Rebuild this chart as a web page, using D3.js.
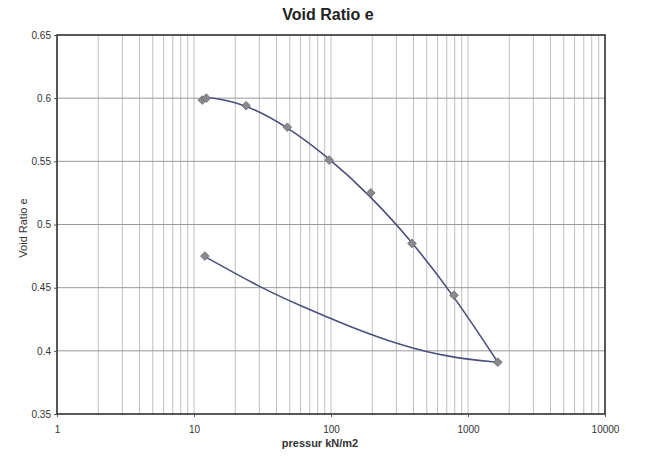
<!DOCTYPE html>
<html>
<head>
    <script src="https://d3js.org/d3.v7.min.js"></script>
    <style>
        body { margin: 0; background: #fff; }
        svg { font-family: "Liberation Sans", Arial, sans-serif; }
    </style>
</head>
<body>
    <svg id="chart" width="657" height="459"></svg>
    <script>
        // loading branch (markers), pressure kN/m2 vs void ratio
        const loadP = [11.5, 12.3, 24, 48, 97, 195, 390, 790, 1650];
        const loadE = [0.5985, 0.600, 0.594, 0.577, 0.551, 0.525, 0.485, 0.444, 0.391];
        // loading trend line
        const loadLineP = [11.2, 14, 24, 48, 97, 195, 390, 790, 1650];
        const loadLineE = [0.6005, 0.6005, 0.595, 0.5775, 0.5525, 0.5225, 0.4865, 0.4435, 0.391];
        // unloading branch markers
        const unloadP = [12];
        const unloadE = [0.475];
        // unloading trend line
        const unloadLineP = [12, 30, 60, 138, 318, 750, 1650];
        const unloadLineE = [0.4746, 0.4505, 0.4355, 0.419, 0.4045, 0.3945, 0.391];
        const xTicks = [1, 10, 100, 1000, 10000];
        const yTicks = [0.35, 0.4, 0.45, 0.5, 0.55, 0.6, 0.65];

        const svg = d3.select("#chart");
        const plot = { left: 57, right: 605, top: 35, bottom: 414 };

        const x = d3.scaleLog().domain([1, 10000]).range([plot.left, plot.right]);
        const y = d3.scaleLinear().domain([0.35, 0.65]).range([plot.bottom, plot.top]);

        // vertical grid at every log tick
        const minor = x.ticks().filter(d => d > 1 && d < 10000);
        svg.append("g").selectAll("line")
            .data(minor)
            .join("line")
            .attr("x1", d => x(d)).attr("x2", d => x(d))
            .attr("y1", plot.top).attr("y2", plot.bottom)
            .attr("stroke", "#b0b0b0")
            .attr("stroke-width", 0.8);

        // horizontal grid
        svg.append("g").selectAll("line")
            .data(yTicks.slice(1, -1))
            .join("line")
            .attr("x1", plot.left).attr("x2", plot.right)
            .attr("y1", d => y(d)).attr("y2", d => y(d))
            .attr("stroke", "#999")
            .attr("stroke-width", 1);

        // frame
        svg.append("rect")
            .attr("x", plot.left).attr("y", plot.top)
            .attr("width", plot.right - plot.left).attr("height", plot.bottom - plot.top)
            .attr("fill", "none")
            .attr("stroke", "#222")
            .attr("stroke-width", 1.5);

        // axes
        const yAxis = svg.append("g")
            .attr("transform", `translate(${plot.left},0)`)
            .call(d3.axisLeft(y).tickValues(yTicks).tickSize(3).tickFormat(d => String(+d.toFixed(2))));
        const xAxis = svg.append("g")
            .attr("transform", `translate(0,${plot.bottom})`)
            .call(d3.axisBottom(x).tickValues(xTicks).tickSize(3).tickFormat(d3.format("d")));
        [xAxis, yAxis].forEach(a => {
            a.select(".domain").remove();
            a.selectAll(".tick line").attr("stroke", "#555");
            a.selectAll(".tick text")
                .attr("fill", "#333")
                .style("font-size", "10px")
                .style("font-family", "'Liberation Sans', Arial, sans-serif");
        });
        xAxis.selectAll(".tick text").attr("dy", "1.3em");

        // smooth trend lines
        const line = d3.line()
            .x(d => x(d[0]))
            .y(d => y(d[1]))
            .curve(d3.curveBasis);

        svg.append("path")
            .datum(d3.zip(loadLineP, loadLineE))
            .attr("d", line)
            .attr("fill", "none")
            .attr("stroke", "#4b4f7c")
            .attr("stroke-width", 1.6);

        svg.append("path")
            .datum(d3.zip(unloadLineP, unloadLineE))
            .attr("d", line)
            .attr("fill", "none")
            .attr("stroke", "#4b4f7c")
            .attr("stroke-width", 1.6);

        // diamond markers
        const diamond = d3.symbol().type(d3.symbolDiamond2).size(48);
        svg.append("g").selectAll("path")
            .data(d3.zip(loadP, loadE).concat(d3.zip(unloadP, unloadE)))
            .join("path")
            .attr("d", diamond)
            .attr("transform", d => `translate(${x(d[0])},${y(d[1])})`)
            .attr("fill", "#8a8a8e")
            .attr("stroke", "#6a6a70")
            .attr("stroke-width", 0.8);

        // titles
        svg.append("text")
            .attr("x", 328).attr("y", 20)
            .attr("text-anchor", "middle")
            .style("font-family", "'Liberation Sans Narrow', 'Arial Narrow', sans-serif")
            .style("font-weight", "bold")
            .style("font-size", "16px")
            .attr("fill", "#222")
            .text("Void Ratio  e");

        svg.append("text")
            .attr("x", 320).attr("y", 447)
            .attr("text-anchor", "middle")
            .style("font-family", "'Liberation Sans Narrow', 'Arial Narrow', sans-serif")
            .style("font-weight", "bold")
            .style("font-size", "11px")
            .attr("fill", "#333")
            .text("pressur kN/m2");

        svg.append("text")
            .attr("transform", "translate(27,228) rotate(-90)")
            .attr("text-anchor", "middle")
            .style("font-family", "'Liberation Sans Narrow', 'Arial Narrow', sans-serif")
            .style("font-size", "11px")
            .attr("fill", "#333")
            .text("Void Ratio e");
    </script>
</body>
</html>
